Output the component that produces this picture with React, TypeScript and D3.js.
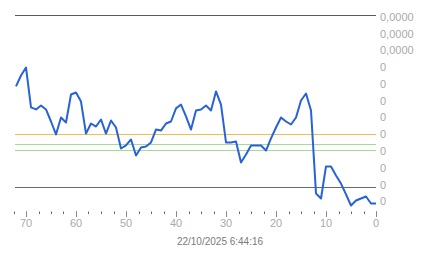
import React from "react";
import * as d3 from "d3";

// index (seconds ago) from 72 down to 0
const indices: number[] = d3.range(72, -1, -1);
const values: number[] = [
  6.86, 7.51, 7.99, 5.61, 5.49, 5.72, 5.49, 4.77, 4.0, 5.01, 4.71, 6.38, 6.5,
  5.96, 4.05, 4.65, 4.47, 4.89, 4.05, 4.83, 4.41, 3.16, 3.34, 3.7, 2.74, 3.22,
  3.28, 3.52, 4.29, 4.23, 4.65, 4.77, 5.55, 5.78, 5.07, 4.29, 5.43, 5.49, 5.72,
  5.43, 6.56, 5.78, 3.52, 3.52, 3.58, 2.33, 2.8, 3.34, 3.34, 3.34, 3.04, 3.76,
  4.41, 5.01, 4.77, 4.59, 5.01, 6.02, 6.44, 5.43, 0.48, 0.18, 2.09, 2.09, 1.55,
  1.07, 0.42, -0.24, 0.06, 0.18, 0.3, -0.12, -0.12,
];
const yTickValues: number[] = d3.range(0, 12);
const yTickLabels: string[] = [
  "0", "0", "0", "0", "0", "0", "0", "0", "0", "0,0000", "0,0000", "0,0000",
];
const xMajorTicks: number[] = [70, 60, 50, 40, 30, 20, 10, 0];
const xMinorTicks: number[] = d3.range(0, 73, 2.5);
const refLines = [
  { value: 11.12, color: "#5a5a5a" },
  { value: 4.02, color: "#ecbf55" },
  { value: 3.4, color: "#a9da92" },
  { value: 3.1, color: "#a9da92" },
  { value: 0.89, color: "#6a6a6a" },
];
const dateLabel = "22/10/2025 6:44:16";

export default function App() {
  const W = 443;
  const H = 258;
  const x = d3.scaleLinear().domain([72, 0]).range([16, 376]);
  const y = d3.scaleLinear().domain([0, 11]).range([201.5, 17]);
  const line = d3
    .line<number>()
    .x((_, i) => x(indices[i]))
    .y((d) => y(d));
  return (
    <svg
      width={W}
      height={H}
      style={{ position: "absolute", left: 0, top: 0, background: "#fff" }}
      fontFamily="'Liberation Sans', Arial, sans-serif"
    >
      {refLines.map((r, i) => (
        <line
          key={i}
          x1={x(72) - 1}
          x2={x(0)}
          y1={Math.round(y(r.value)) + 0.5}
          y2={Math.round(y(r.value)) + 0.5}
          stroke={r.color}
          strokeWidth={1}
        />
      ))}
      <path
        d={line(values) || ""}
        fill="none"
        stroke="#2762d6"
        strokeWidth={2}
        strokeLinejoin="round"
      />
      {yTickValues.map((v, i) => (
        <text
          key={i}
          x={380}
          y={y(v)}
          dy="0.35em"
          fontSize={11}
          fill="#aaaaaa"
        >
          {yTickLabels[i]}
        </text>
      ))}
      {xMinorTicks.map((t, i) => (
        <line
          key={"m" + i}
          x1={Math.round(x(t)) + 0.5}
          x2={Math.round(x(t)) + 0.5}
          y1={211.5}
          y2={214}
          stroke="#666"
        />
      ))}
      {xMajorTicks.map((t, i) => (
        <g key={"M" + i}>
          <line
            x1={Math.round(x(t)) + 0.5}
            x2={Math.round(x(t)) + 0.5}
            y1={211.5}
            y2={217}
            stroke="#888"
          />
          <text
            x={x(t)}
            y={223.5}
            dy="0.35em"
            textAnchor="middle"
            fontSize={11}
            fill="#aaaaaa"
          >
            {t}
          </text>
        </g>
      ))}
      <text
        x={220}
        y={241.5}
        dy="0.35em"
        textAnchor="middle"
        fontSize={10}
        fill="#7a7a7a"
      >
        {dateLabel}
      </text>
    </svg>
  );
}
